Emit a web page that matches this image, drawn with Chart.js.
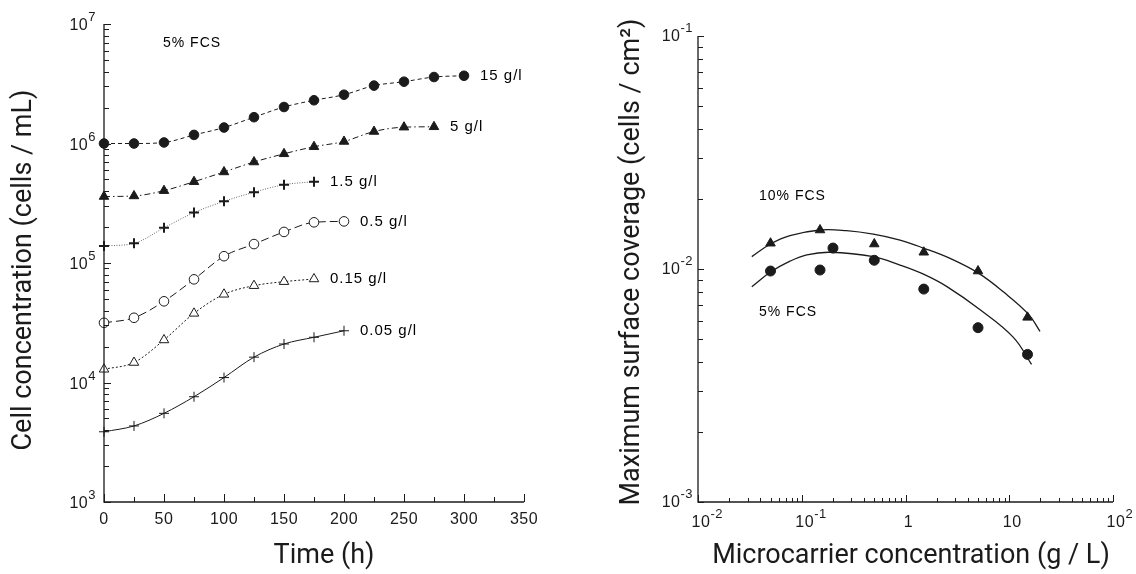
<!DOCTYPE html>
<html>
<head>
<meta charset="utf-8">
<script src="https://cdn.jsdelivr.net/npm/chart.js@4.4.1/dist/chart.umd.min.js"></script>
<style>
	html, body { margin: 0; padding: 0; background: #fff; }
	#wrap { position: relative; width: 1136px; height: 574px; }
	canvas { position: absolute; top: 0; }
	#growth { left: 0; }
	#coverage { left: 568px; }
</style>
</head>
<body>
<div id="wrap">
	<canvas id="growth" width="568" height="574"></canvas>
	<canvas id="coverage" width="568" height="574"></canvas>
</div>
<script>
// ---- left panel: growth curves, 5% FCS ----
const hours = [0, 25, 50, 75, 100, 125, 150, 175, 200, 225, 250, 275, 300];
const conc15 = [1.0e6, 1.0e6, 1.02e6, 1.18e6, 1.36e6, 1.66e6, 2.02e6, 2.30e6, 2.56e6, 3.05e6, 3.29e6, 3.60e6, 3.69e6];
const conc5 = [3.6e5, 3.64e5, 4.03e5, 4.79e5, 5.78e5, 7.0e5, 8.2e5, 9.4e5, 1.04e6, 1.26e6, 1.37e6, 1.38e6];
const conc1_5 = [1.39e5, 1.46e5, 1.97e5, 2.64e5, 3.28e5, 3.91e5, 4.52e5, 4.79e5];
const conc0_5 = [3.16e4, 3.48e4, 4.78e4, 7.3e4, 1.14e5, 1.44e5, 1.82e5, 2.19e5, 2.23e5];
const conc0_15 = [1.29e4, 1.47e4, 2.27e4, 3.79e4, 5.47e4, 6.46e4, 6.98e4, 7.35e4];
const conc0_05 = [3.87e3, 4.33e3, 5.52e3, 7.6e3, 1.10e4, 1.63e4, 2.10e4, 2.39e4, 2.71e4];
const growthNames = ["15 g/l", "5 g/l", "1.5 g/l", "0.5 g/l", "0.15 g/l", "0.05 g/l"];
const timeTicks = [0, 25, 50, 75, 100, 125, 150, 175, 200, 225, 250, 275, 300, 325, 350];
const timeLabels = ["0", "50", "100", "150", "200", "250", "300", "350"];
const concExponents = ["3", "4", "5", "6", "7"];

// ---- right panel: max surface coverage ----
const carrier10 = [0.05, 0.15, 0.5, 1.5, 5, 15];
const cover10 = [0.0129, 0.0147, 0.0128, 0.0118, 0.0098, 0.0062];
const carrier5 = [0.05, 0.15, 0.2, 0.5, 1.5, 5, 15];
const cover5 = [0.0098, 0.0099, 0.0123, 0.0109, 0.0082, 0.0056, 0.0043];
// fitted curves
const fitCarrier10 = [0.033, 0.05, 0.077, 0.15, 0.27, 0.49, 0.885, 1.49, 2.69, 5.04, 8.7, 15.3, 19.8];
const fitCover10 = [0.0113, 0.0128, 0.0139, 0.0147, 0.0146, 0.0141, 0.0133, 0.0123, 0.0111, 0.0096, 0.0080, 0.0064, 0.0054];
const fitCarrier5 = [0.033, 0.05, 0.077, 0.112, 0.187, 0.49, 0.885, 1.49, 2.51, 5.2, 10.9, 16.4];
const fitCover5 = [0.0084, 0.0097, 0.0108, 0.0115, 0.0118, 0.0113, 0.0104, 0.0095, 0.0084, 0.0067, 0.0051, 0.0039];
const carrierTickLabels = [["10", "-2"], ["10", "-1"], ["1", ""], ["10", ""], ["10", "2"]];
const coverExponents = ["-3", "-2", "-1"];

const INK = "#1b1b1b";
const TICK_FONT = '16px "Liberation Sans", Arial, sans-serif';
const EXP_FONT = '13px "Liberation Sans", Arial, sans-serif';
const NOTE_FONT = '15px "Liberation Sans", Arial, sans-serif';
const TITLE_FONT = '27px Roboto, "Noto Sans", sans-serif';

function logTicks(lo, hi) {
	const out = [];
	for (let e = lo; e < hi; e++) {
		for (let m = 1; m < 10; m++) out.push({ v: m * Math.pow(10, e), major: m === 1 });
	}
	out.push({ v: Math.pow(10, hi), major: true });
	return out;
}

function yTick(ctx, scale, left, v, len) {
	const py = Math.round(scale.getPixelForValue(v)) + 0.5;
	ctx.beginPath();
	ctx.moveTo(left, py);
	ctx.lineTo(left + len, py);
	ctx.stroke();
}

function xTick(ctx, scale, bottom, v, len) {
	const px = Math.round(scale.getPixelForValue(v)) + 0.5;
	ctx.beginPath();
	ctx.moveTo(px, bottom);
	ctx.lineTo(px, bottom - len);
	ctx.stroke();
}

// "10" with a raised exponent; align right or centre on the base
function powerLabel(ctx, base, exp, x, y, align) {
	ctx.letterSpacing = "0.5px";
	ctx.font = TICK_FONT;
	const wb = ctx.measureText(base).width;
	ctx.font = EXP_FONT;
	const we = exp ? ctx.measureText(exp).width : 0;
	const x0 = align === "right" ? x - wb - we : x - wb / 2;
	ctx.textAlign = "left";
	ctx.textBaseline = "alphabetic";
	ctx.font = TICK_FONT;
	ctx.fillText(base, x0, y);
	if (exp) {
		ctx.font = EXP_FONT;
		ctx.fillText(exp, x0 + wb, y - 9);
	}
	ctx.letterSpacing = "0px";
}

function axisLines(ctx, a) {
	ctx.lineWidth = 1.3;
	ctx.beginPath();
	ctx.moveTo(a.left, a.top);
	ctx.lineTo(a.left, a.bottom);
	ctx.lineTo(a.right, a.bottom);
	ctx.stroke();
	ctx.lineWidth = 1;
}

function title(ctx, text, x, y, rotate) {
	ctx.save();
	ctx.translate(x, y);
	if (rotate) ctx.rotate(-Math.PI / 2);
	ctx.font = TITLE_FONT;
	ctx.fillStyle = INK;
	ctx.textAlign = "center";
	ctx.textBaseline = "middle";
	ctx.fillText(text, 0, 0);
	ctx.restore();
}

const growthDecor = {
	id: "growth_decor",
	afterDraw(chart) {
		const ctx = chart.ctx;
		const a = chart.chartArea;
		const xs = chart.scales.x;
		const ys = chart.scales.y;
		ctx.save();
		ctx.strokeStyle = INK;
		ctx.fillStyle = INK;
		axisLines(ctx, a);
		logTicks(3, 7).forEach((t) => yTick(ctx, ys, a.left, t.v, t.major ? 7 : 5));
		timeTicks.forEach((t) => xTick(ctx, xs, a.bottom, t, t % 50 === 0 ? 8 : 5));
		concExponents.forEach((e) => {
			const py = ys.getPixelForValue(Math.pow(10, +e));
			powerLabel(ctx, "10", e, a.left - 8, py + 6, "right");
		});
		timeLabels.forEach((l) => {
			powerLabel(ctx, l, "", xs.getPixelForValue(+l), a.bottom + 22, "center");
		});
		// series labels beside the last point of each curve
		ctx.fillStyle = "#000";
		ctx.font = NOTE_FONT;
		ctx.letterSpacing = "1px";
		ctx.textAlign = "left";
		ctx.textBaseline = "middle";
		growthNames.forEach((name, i) => {
			const pts = chart.getDatasetMeta(i).data;
			const last = pts[pts.length - 1];
			ctx.fillText(name, last.x + 16, last.y);
		});
		ctx.font = '14px "Liberation Sans", Arial, sans-serif';
		ctx.fillText("5% FCS", a.left + 59, a.top + 19);
		ctx.letterSpacing = "0px";
		ctx.restore();
		title(ctx, "Cell concentration (cells / mL)", 24, 270, true);
		title(ctx, "Time (h)", 324, 556, false);
	}
};

const coverageDecor = {
	id: "coverage_decor",
	afterDraw(chart) {
		const ctx = chart.ctx;
		const a = chart.chartArea;
		const xs = chart.scales.x;
		const ys = chart.scales.y;
		ctx.save();
		ctx.strokeStyle = INK;
		ctx.fillStyle = INK;
		axisLines(ctx, a);
		logTicks(-3, -1).forEach((t) => yTick(ctx, ys, a.left, t.v, t.major ? 6 : 5));
		logTicks(-2, 2).forEach((t) => xTick(ctx, xs, a.bottom, t.v, t.major ? 7 : 4));
		coverExponents.forEach((e) => {
			const py = ys.getPixelForValue(Math.pow(10, +e));
			powerLabel(ctx, "10", e, a.left - 5, py + 5, "right");
		});
		carrierTickLabels.forEach((l, i) => {
			const px = xs.getPixelForValue(Math.pow(10, i - 2));
			powerLabel(ctx, l[0], l[1], px + 3, a.bottom + 25, "center");
		});
		ctx.fillStyle = "#000";
		ctx.font = '14px "Liberation Sans", Arial, sans-serif';
		ctx.letterSpacing = "1px";
		ctx.textAlign = "left";
		ctx.textBaseline = "middle";
		ctx.fillText("10% FCS", a.left + 61, ys.getPixelForValue(0.0206));
		ctx.fillText("5% FCS", a.left + 61, ys.getPixelForValue(0.00656));
		ctx.letterSpacing = "0px";
		ctx.restore();
		title(ctx, "Maximum surface coverage (cells / cm²)", 64, 262, true);
		title(ctx, "Microcarrier concentration (g / L)", 911 - 568, 556, false);
	}
};

function pairs(xs, ys) {
	return ys.map((v, i) => ({ x: xs[i], y: v }));
}

function growthSeries(values, style) {
	return Object.assign({
		data: pairs(hours, values),
		borderColor: INK,
		borderWidth: 1,
		cubicInterpolationMode: "monotone",
		pointBorderColor: INK,
		pointBackgroundColor: INK,
		pointBorderWidth: 1,
		fill: false,
		clip: false
	}, style);
}

function fitLine(xs, ys) {
	return { data: pairs(xs, ys), borderColor: INK, borderWidth: 1.3, pointRadius: 0, tension: 0.4, fill: false };
}

function hiddenScale(type, min, max, fit) {
	return {
		type: type,
		min: min,
		max: max,
		ticks: { display: false },
		grid: { display: false },
		border: { display: false },
		afterFit: fit
	};
}

new Chart(document.getElementById("growth"), {
	type: "line",
	data: {
		datasets: [
			growthSeries(conc15, { borderDash: [4, 3], pointStyle: "circle", pointRadius: 4.8 }),
			growthSeries(conc5, { borderDash: [6, 3, 1.5, 3], pointStyle: "triangle", pointRadius: 5.5 }),
			growthSeries(conc1_5, { borderDash: [1, 1.5], borderColor: "#666", pointStyle: "cross", pointRadius: 5, pointBorderWidth: 2 }),
			growthSeries(conc0_5, { borderDash: [8, 4], pointStyle: "circle", pointRadius: 4.8, pointBackgroundColor: "#fff" }),
			growthSeries(conc0_15, { borderDash: [2, 2], pointStyle: "triangle", pointRadius: 5.5, pointBackgroundColor: "#fff" }),
			growthSeries(conc0_05, { pointStyle: "cross", pointRadius: 5 })
		]
	},
	plugins: [growthDecor],
	options: {
		responsive: false,
		animation: false,
		layout: { padding: { left: 0, top: 24, right: 44, bottom: 0 } },
		scales: {
			x: hiddenScale("linear", 0, 350, (s) => { s.height = 72; }),
			y: hiddenScale("logarithmic", 1e3, 1e7, (s) => { s.width = 104; })
		},
		plugins: { legend: { display: false }, tooltip: { enabled: false } }
	}
});

new Chart(document.getElementById("coverage"), {
	type: "line",
	data: {
		datasets: [
			fitLine(fitCarrier10, fitCover10),
			fitLine(fitCarrier5, fitCover5),
			{ data: pairs(carrier10, cover10), showLine: false, pointStyle: "triangle", pointRadius: 5.5, pointBackgroundColor: INK, pointBorderColor: INK, clip: false },
			{ data: pairs(carrier5, cover5), showLine: false, pointStyle: "circle", pointRadius: 5, pointBackgroundColor: INK, pointBorderColor: INK, clip: false }
		]
	},
	plugins: [coverageDecor],
	options: {
		responsive: false,
		animation: false,
		layout: { padding: { left: 0, top: 36, right: 23, bottom: 0 } },
		scales: {
			x: hiddenScale("logarithmic", 0.01, 100, (s) => { s.height = 72; }),
			y: hiddenScale("logarithmic", 0.001, 0.1, (s) => { s.width = 130; })
		},
		plugins: { legend: { display: false }, tooltip: { enabled: false } }
	}
});
</script>
</body>
</html>
